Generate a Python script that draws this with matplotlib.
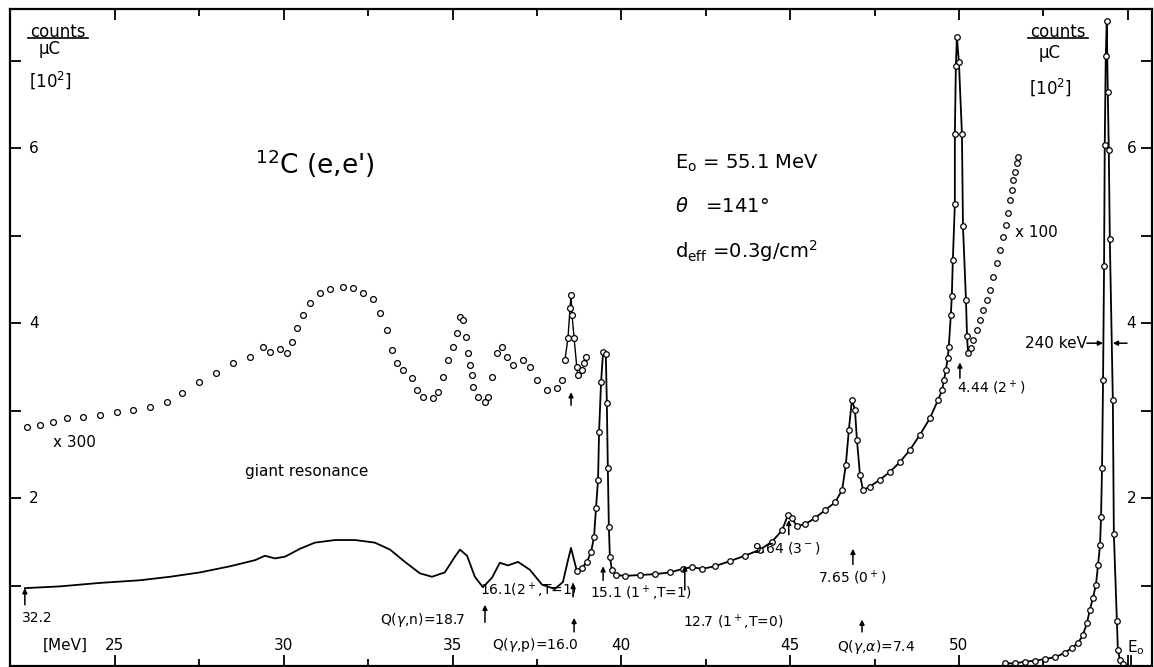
import matplotlib.pyplot as plt
from matplotlib.lines import Line2D

# 12C(e,e') spectrum, E' in MeV, counts/uC [10^2]

# x300 curve (open circles)
x300_E = [22.39, 22.78, 23.16, 23.58, 24.05, 24.56, 25.06, 25.53, 26.04, 26.54,
          27.0, 27.5, 28.0, 28.5, 29.0, 29.38, 29.6, 29.9, 30.1, 30.24,
          30.39, 30.57, 30.78, 31.07, 31.37, 31.75, 32.05, 32.35, 32.65, 32.85,
          33.05, 33.2, 33.35, 33.53, 33.8, 33.95, 34.12, 34.42, 34.57, 34.72,
          34.87, 35.02, 35.13, 35.22, 35.31, 35.4, 35.46, 35.52, 35.57, 35.62,
          35.76, 35.96, 36.05, 36.17, 36.31, 36.46, 36.61, 36.8, 37.1, 37.3,
          37.5, 37.8, 38.09, 38.24, 38.33, 38.42, 38.48, 38.51, 38.54, 38.6,
          38.68, 38.71, 38.83, 38.89, 38.95]
x300_y = [2.81, 2.83, 2.87, 2.91, 2.93, 2.95, 2.98, 3.01, 3.04, 3.10,
          3.20, 3.33, 3.43, 3.54, 3.61, 3.73, 3.67, 3.70, 3.66, 3.78,
          3.94, 4.09, 4.23, 4.34, 4.39, 4.41, 4.40, 4.34, 4.28, 4.11,
          3.92, 3.69, 3.54, 3.46, 3.37, 3.23, 3.15, 3.14, 3.21, 3.38,
          3.58, 3.73, 3.89, 4.07, 4.03, 3.84, 3.66, 3.52, 3.41, 3.27,
          3.15, 3.10, 3.15, 3.38, 3.66, 3.73, 3.61, 3.52, 3.58, 3.50,
          3.35, 3.23, 3.26, 3.35, 3.58, 3.83, 4.17, 4.32, 4.09, 3.83,
          3.50, 3.41, 3.46, 3.54, 3.61]

# x1 curve, drawn as line only
line_E = [22.33, 23.37, 24.56, 25.74, 26.63, 27.52, 28.41, 29.15, 29.44, 29.74,
          30.04, 30.48, 30.92, 31.52, 32.11, 32.70, 33.15, 33.59, 34.03, 34.39,
          34.77, 35.07, 35.22, 35.43, 35.66, 35.90, 36.17, 36.40, 36.64, 36.94,
          37.29, 37.65, 38.03, 38.27, 38.42, 38.51, 38.60, 38.68]
line_y = [0.97, 0.99, 1.03, 1.06, 1.10, 1.15, 1.22, 1.29, 1.34, 1.31,
          1.33, 1.42, 1.49, 1.52, 1.52, 1.49, 1.41, 1.27, 1.14, 1.10,
          1.15, 1.33, 1.41, 1.34, 1.10, 0.98, 1.09, 1.26, 1.23, 1.27,
          1.18, 1.01, 0.96, 1.04, 1.29, 1.43, 1.29, 1.17]

# x1 curve with data points (15.1 ... 4.44)
pts_E = [38.68, 38.83, 38.98, 39.10, 39.19, 39.25, 39.31, 39.34, 39.40, 39.46,
         39.54, 39.57, 39.60, 39.63, 39.66, 39.72, 39.84, 40.11, 40.55, 41.00,
         41.44, 41.82, 42.09, 42.39, 42.77, 43.22, 43.66, 44.11, 44.46, 44.76,
         44.94, 45.05, 45.20, 45.44, 45.73, 46.03, 46.33, 46.54, 46.65, 46.74,
         46.83, 46.92, 46.98, 47.07, 47.16, 47.36, 47.66, 47.96, 48.25, 48.55,
         48.84, 49.14, 49.38, 49.50, 49.56, 49.61, 49.67, 49.70, 49.76, 49.79,
         49.82, 49.88, 49.88, 49.91, 49.94, 50.00, 50.09, 50.12, 50.21, 50.24,
         50.27]
pts_y = [1.17, 1.20, 1.27, 1.38, 1.55, 1.89, 2.21, 2.75, 3.33, 3.67,
         3.65, 3.09, 2.34, 1.67, 1.33, 1.18, 1.12, 1.11, 1.12, 1.13,
         1.15, 1.19, 1.21, 1.19, 1.22, 1.28, 1.34, 1.41, 1.50, 1.63,
         1.81, 1.77, 1.68, 1.70, 1.77, 1.86, 1.95, 2.09, 2.38, 2.78,
         3.12, 3.01, 2.66, 2.26, 2.09, 2.13, 2.21, 2.30, 2.41, 2.55,
         2.72, 2.91, 3.12, 3.23, 3.35, 3.46, 3.60, 3.73, 4.09, 4.31,
         4.72, 5.36, 6.16, 6.94, 7.27, 6.98, 6.16, 5.11, 4.26, 3.85,
         3.66]

# x100 curve
x100_E = [50.36, 50.41, 50.53, 50.62, 50.71, 50.83, 50.92, 51.01, 51.13, 51.21,
          51.30, 51.39, 51.45, 51.51, 51.57, 51.60, 51.66, 51.72, 51.75]
x100_y = [3.71, 3.81, 3.92, 4.03, 4.15, 4.26, 4.38, 4.53, 4.69, 4.83,
          4.98, 5.12, 5.26, 5.41, 5.52, 5.63, 5.73, 5.83, 5.90]

# elastic peak
el_E = [51.36, 51.66, 51.96, 52.25, 52.55, 52.84, 53.14, 53.35, 53.52, 53.67,
        53.79, 53.88, 53.97, 54.06, 54.12, 54.18, 54.21, 54.24, 54.27, 54.30,
        54.32, 54.35, 54.38, 54.41, 54.44, 54.47, 54.56, 54.59, 54.68, 54.71,
        54.77, 54.86]
el_y = [0.11, 0.11, 0.13, 0.14, 0.16, 0.18, 0.23, 0.29, 0.34, 0.43,
        0.57, 0.72, 0.86, 1.01, 1.23, 1.46, 1.78, 2.34, 3.35, 4.65,
        6.03, 7.05, 7.45, 6.64, 5.98, 4.96, 3.12, 1.59, 0.59, 0.26,
        0.15, 0.10]

xticks_major = [25, 30, 35, 40, 45, 50, 55]
xticks_minor = [27.5, 32.5, 37.5, 42.5, 47.5, 52.5]
xtick_labels = ["25", "30", "35", "40", "45", "50"]
yticks = [1, 2, 3, 4, 5, 6, 7]
ytick_labels = [2, 4, 6]

W, H = 1154, 667

fig = plt.figure(figsize=(W / 100, H / 100), dpi=100)
ax = fig.add_axes([10 / W, 1 / H, 1142 / W, 657 / H])
ax.set_xlim(21.89, 55.72)
ax.set_ylim(0.08, 7.59)

for s in ax.spines.values():
    s.set_linewidth(1.6)

ax.set_xticks(xticks_major)
ax.set_xticks(xticks_minor, minor=True)
ax.set_yticks(yticks)
ax.tick_params(axis="both", which="both", direction="in", top=True, right=True,
               labelbottom=False, labelleft=False, width=1.3)
ax.tick_params(which="major", length=8)
ax.tick_params(which="minor", length=5)

# curves
ax.plot(line_E, line_y, color="k", lw=1.3)
ax.plot(pts_E, pts_y, color="k", lw=1.3, marker="o", ms=4, mfc="white", mec="k", mew=0.9)
ax.plot(x300_E[64:72], x300_y[64:72], color="k", lw=1.0)
ax.plot(x300_E, x300_y, ls="none", marker="o", ms=4.2, mfc="white", mec="k", mew=0.9)
ax.plot(x100_E, x100_y, ls="none", marker="o", ms=4, mfc="white", mec="k", mew=0.9)
ax.plot(el_E, el_y, color="k", lw=1.3, marker="o", ms=4, mfc="white", mec="k", mew=0.9)

# tick labels inside the frame
for v, lab in zip(xticks_major, xtick_labels):
    ax.text(v, 0.32, lab, ha="center", va="center", fontsize=11)
ax.text(23.52, 0.32, "[MeV]", ha="center", va="center", fontsize=11)
ax.text(54.98, 0.29, r"E$_{\rm o}$", ha="left", va="center", fontsize=11)
ax.plot([55.1, 55.1], [0.08, 0.2], color="k", lw=1.3)

ytr = ax.get_yaxis_transform()
for v in ytick_labels:
    ax.text(0.021, v, str(v), transform=ytr, ha="center", va="center", fontsize=11)
    ax.text(0.982, v, str(v), transform=ytr, ha="center", va="center", fontsize=11)


def fpos(x, y):
    return x / W, 1 - y / H


# axis unit labels
for cx, ys in [(58, (32, 49, 80)), (1058, (32, 53, 87))]:
    fig.text(*fpos(cx, ys[0]), "counts", ha="center", va="center", fontsize=12)
    fig.add_artist(Line2D([(cx - 30) / W, (cx + 30) / W], [1 - 38 / H] * 2, color="k", lw=1.2))
    fig.text(*fpos(cx - 8, ys[1]), "µC", ha="center", va="center", fontsize=12)
    fig.text(*fpos(cx - 8, ys[2]), r"[10$^2$]", ha="center", va="center", fontsize=12)

# title and parameters
ax.text(29.15, 5.70, r"$^{12}$C (e,e')", ha="left", va="baseline", fontsize=19)
ax.text(41.59, 5.77, r"E$_{\rm o}$ = 55.1 MeV", ha="left", va="baseline", fontsize=14)
ax.text(41.59, 5.27, r"$\theta$   =141°", ha="left", va="baseline", fontsize=14)
ax.text(41.59, 4.75, r"d$_{\rm eff}$ =0.3g/cm$^2$", ha="left", va="baseline", fontsize=14)

ax.text(23.16, 2.63, "x 300", ha="left", va="center", fontsize=11)
ax.text(28.85, 2.30, "giant resonance", ha="left", va="center", fontsize=11)
ax.text(51.66, 5.03, "x 100", ha="left", va="center", fontsize=11)


def up_arrow(x, y0, y1):
    ax.annotate("", xy=(x, y1), xytext=(x, y0),
                arrowprops=dict(arrowstyle="-|>", color="k", lw=1.1,
                                mutation_scale=7, shrinkA=0, shrinkB=0))


# level labels
ax.text(49.94, 3.26, r"4.44 (2$^+$)", ha="left", va="center", fontsize=10)
up_arrow(50.03, 3.37, 3.55)
ax.text(45.82, 1.09, r"7.65 (0$^+$)", ha="left", va="center", fontsize=10)
up_arrow(46.86, 1.24, 1.42)
ax.text(43.87, 1.43, r"9.64 (3$^-$)", ha="left", va="center", fontsize=10)
up_arrow(44.96, 1.58, 1.75)
ax.text(41.82, 0.58, r"12.7 (1$^+$,T=0)", ha="left", va="center", fontsize=10)
up_arrow(41.88, 0.95, 1.23)
ax.text(39.07, 0.91, r"15.1 (1$^+$,T=1)", ha="left", va="center", fontsize=10)
up_arrow(39.46, 1.06, 1.22)
ax.text(35.81, 0.95, r"16.1(2$^+$,T=1)", ha="left", va="center", fontsize=10)
up_arrow(38.57, 0.87, 1.03)
ax.text(32.85, 0.61, r"Q($\gamma$,n)=18.7", ha="left", va="center", fontsize=10)
up_arrow(35.96, 0.58, 0.78)
ax.text(36.17, 0.32, r"Q($\gamma$,p)=16.0", ha="left", va="center", fontsize=10)
up_arrow(38.60, 0.47, 0.63)
ax.text(46.39, 0.30, r"Q($\gamma$,$\alpha$)=7.4", ha="left", va="center", fontsize=10)
up_arrow(47.13, 0.47, 0.61)
ax.text(22.25, 0.63, "32.2", ha="left", va="center", fontsize=10)
up_arrow(22.33, 0.78, 0.97)
up_arrow(38.51, 3.06, 3.21)

# resolution
ax.text(53.79, 3.77, "240 keV", ha="right", va="center", fontsize=11)
ax.annotate("", xy=(54.27, 3.77), xytext=(53.79, 3.77),
            arrowprops=dict(arrowstyle="-|>", color="k", lw=1.1, mutation_scale=7,
                            shrinkA=0, shrinkB=0))
ax.annotate("", xy=(54.56, 3.77), xytext=(54.98, 3.77),
            arrowprops=dict(arrowstyle="-|>", color="k", lw=1.1, mutation_scale=7,
                            shrinkA=0, shrinkB=0))

fig.savefig("out.png", dpi=100)
